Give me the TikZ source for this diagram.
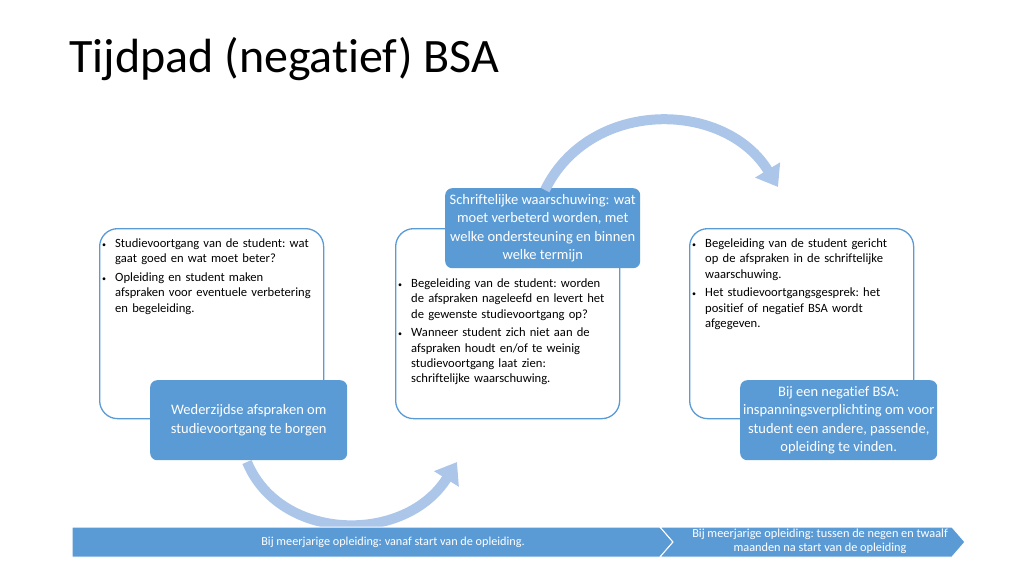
\documentclass[tikz,border=0pt]{standalone}
\usepackage{fontspec}
\setmainfont{Carlito}[Ligatures=NoCommon]
\usetikzlibrary{arrows.meta}
\definecolor{oblue}{RGB}{91,155,213}
\definecolor{lblue}{RGB}{172,198,233}
\newcommand\bitem[1]{\par\hangindent=13pt\hangafter=1\noindent\makebox[13pt][l]{\raisebox{0.5pt}{\footnotesize\textbullet}}#1\par\vspace{3.5pt}}
\tikzset{
  outline/.style={draw=oblue, line width=1.3pt, fill=white, rounded corners=18pt, minimum width=224pt, minimum height=190pt, anchor=north west, inner sep=0},
  tag/.style={fill=oblue, rounded corners=7pt, text=white, align=center, font=\fontsize{14.5}{18.5}\selectfont, inner sep=0, anchor=north west},
  bul/.style={anchor=north west, text width=220pt, align=left, font=\fontsize{12.6}{15.3}\selectfont\frenchspacing, inner sep=0},
  curvarrow/.style={draw=lblue, line width=10pt, -{Triangle[length=20pt,width=28pt]}},
  bar/.style={fill=oblue, draw=white, line width=1pt},
  bartext/.style={text=white, align=center, inner sep=0}
}
\begin{document}
\begin{tikzpicture}[x=1pt,y=-1pt]
\useasboundingbox (0,0) rectangle (1024,576);
% title
\node[anchor=base west, inner sep=0, font=\fontsize{48}{54}\selectfont] (title) at (69,72) {Tijdpad (negatief) BSA};
% outline boxes
\node[outline] (box1) at (99,228) {};
\node[outline] (box2) at (395,228) {};
\node[outline] (box3) at (689,228) {};
% bullet texts
\node[bul] (t1) at (102,232) {\bitem{Studievoortgang van de student: wat\newline gaat goed en wat moet beter?}\bitem{Opleiding en student maken\newline afspraken voor eventuele verbetering\newline en begeleiding.}};
\node[bul] (t2) at (398,272) {\bitem{Begeleiding van de student: worden\newline de afspraken nageleefd en levert het\newline de gewenste studievoortgang op?}\bitem{Wanneer student zich niet aan de\newline afspraken houdt en/of te weinig\newline studievoortgang laat zien:\newline schriftelijke waarschuwing.}};
\node[bul] (t3) at (692,232) {\bitem{Begeleiding van de student gericht\newline op de afspraken in de schriftelijke\newline waarschuwing.}\bitem{Het studievoortgangsgesprek: het\newline positief of negatief BSA wordt\newline afgegeven.}};
% tags
\node[tag, minimum width=197pt, minimum height=80pt] (tag1) at (150,380) {Wederzijdse afspraken om\\studievoortgang te borgen};
\node[tag, minimum width=195pt, minimum height=80pt] (tag2) at (445,188) {Schriftelijke waarschuwing: wat\\moet verbeterd worden, met\\welke ondersteuning en binnen\\welke termijn};
\node[tag, minimum width=197pt, minimum height=80pt] (tag3) at (740,380) {Bij een negatief BSA:\\inspanningsverplichting om voor\\student een andere, passende,\\opleiding te vinden.};
% curved arrows
\coordinate (c1) at (247,462);
\coordinate (c2) at (457,462);
\coordinate (c3) at (545,190);
\coordinate (c4) at (778,187);
\draw[curvarrow] (c1) .. controls (280,542) and (405,545) .. (c2);
\draw[curvarrow] (c3) .. controls (590,98) and (725,100) .. (c4);
% bottom bar
\path[bar] (72,527) -- (660,527) -- (673,542) -- (660,557) -- (72,557) -- cycle;
\path[bar] (660,527) -- (952,527) -- (965,542) -- (952,557) -- (660,557) -- (673,542) -- cycle;
\node[bartext, font=\fontsize{12.2}{14}\selectfont\frenchspacing] (b1) at (393,542) {Bij meerjarige opleiding: vanaf start van de opleiding.};
\node[bartext, font=\fontsize{12.3}{14}\selectfont\frenchspacing] (b2) at (820,541) {Bij meerjarige opleiding: tussen de negen en twaalf\\maanden na start van de opleiding};
\end{tikzpicture}
\end{document}
